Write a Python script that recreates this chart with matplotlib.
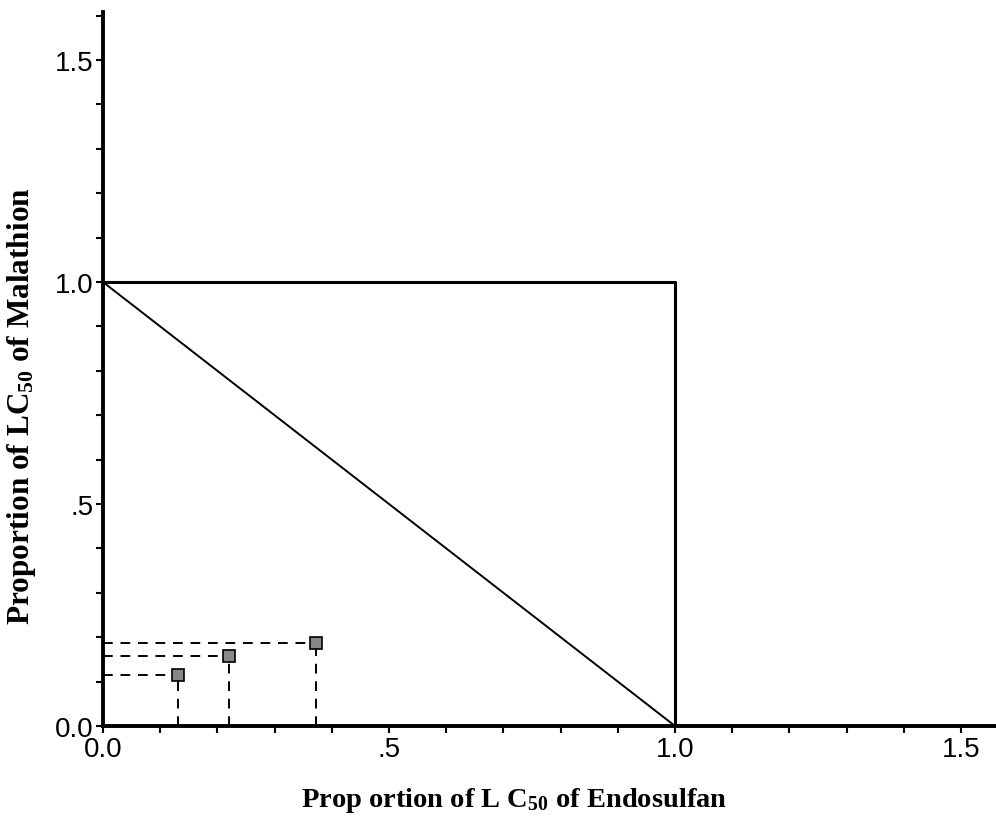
import numpy as np
import matplotlib
matplotlib.use("Agg")
import matplotlib.pyplot as plt
from matplotlib.ticker import MultipleLocator, FixedLocator, FixedFormatter

plt.rcParams['mathtext.fontset'] = 'custom'
plt.rcParams['mathtext.rm'] = 'Liberation Serif:bold'
plt.rcParams['mathtext.it'] = 'Liberation Serif:bold'

# isobole (proportions of LC50)
endo_line = [0.0, 1.0]
mala_line = [1.0, 0.0]

# observed mixtures
endo_pts = [0.131, 0.220, 0.372]
mala_pts = [0.115, 0.158, 0.187]

major_ticks = [0.0, 0.5, 1.0, 1.5]
tick_labels = ['0.0', '.5', '1.0', '1.5']

fig = plt.figure(figsize=(9.96, 8.2), dpi=100)
ax = fig.add_axes([0.1034, 0.1134, 0.8966, 0.8706])

# additive lines: square and diagonal
ax.plot([0, endo_line[1], endo_line[1]], [mala_line[0], mala_line[0], 0],
        color='black', linewidth=2.2)
ax.plot(endo_line, mala_line, color='black', linewidth=1.4)

for x, y in zip(endo_pts, mala_pts):
    ax.plot([0, x], [y, y], color='black', linestyle=(0, (5, 4)), linewidth=1.4)
    ax.plot([x, x], [0, y], color='black', linestyle=(0, (5, 4)), linewidth=1.4)
ax.plot(endo_pts, mala_pts, linestyle='none', marker='s', markersize=8,
        markerfacecolor='#888888', markeredgecolor='black', markeredgewidth=1.2,
        zorder=5)

ax.set_xlim(0, 1.561)
ax.set_ylim(0, 1.608)

for s in ['top', 'right']:
    ax.spines[s].set_visible(False)
for s in ['left', 'bottom']:
    ax.spines[s].set_linewidth(2.8)

ax.xaxis.set_major_locator(FixedLocator(major_ticks))
ax.xaxis.set_major_formatter(FixedFormatter(tick_labels))
ax.yaxis.set_major_locator(FixedLocator(major_ticks))
ax.yaxis.set_major_formatter(FixedFormatter(tick_labels))
ax.xaxis.set_minor_locator(MultipleLocator(0.1))
ax.yaxis.set_minor_locator(MultipleLocator(0.1))
ax.tick_params(which='both', direction='out', length=5, width=1.5, color='black')
ax.tick_params(which='major', labelsize=20, pad=2)
for lab in ax.get_xticklabels() + ax.get_yticklabels():
    lab.set_family('Liberation Sans')

ax.set_xlabel(r'Prop ortion of L C$_{50}$ of Endosulfan', fontsize=20.5,
              family='Liberation Serif', weight='bold')
ax.set_ylabel(r'Proportion of LC$_{50}$ of Malathion', fontsize=22.5,
              family='Liberation Serif', weight='bold')
ax.xaxis.set_label_coords(0.46, -0.082)
ax.yaxis.set_label_coords(-0.073, 0.45)

fig.savefig('out.png', dpi=100)
